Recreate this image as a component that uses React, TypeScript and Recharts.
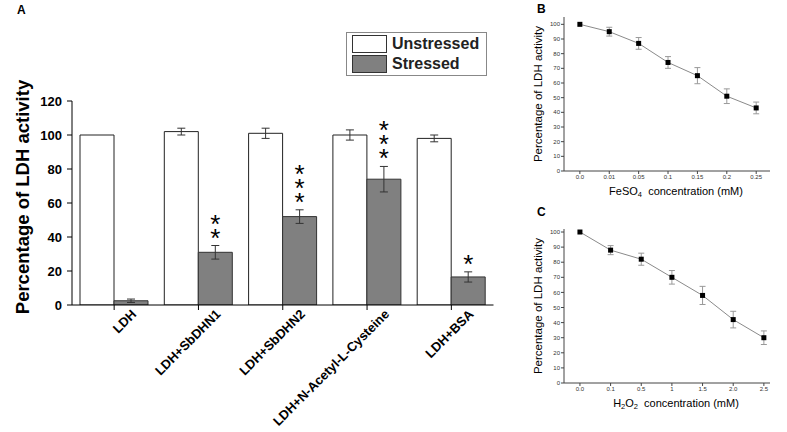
import React from 'react';
import { BarChart, Bar, XAxis, YAxis, ErrorBar, LabelList, Legend, LineChart, Line } from 'recharts';

const FONT = '"Liberation Sans", Arial, Helvetica, sans-serif';

// Panel A
const groups = ['LDH', 'LDH+SbDHN1', 'LDH+SbDHN2', 'LDH+N-Acetyl-L-Cysteine', 'LDH+BSA'];
const unstressed = [100, 102, 101, 100, 98];
const unstressedErr = [0, 2, 3, 3, 2];
const stressed = [2.5, 31, 52, 74, 16.5];
const stressedErr = [1, 4, 4, 7.5, 3];
const stars = [0, 2, 3, 3, 1];
const yTicksA = [0, 20, 40, 60, 80, 100, 120];
const yMinorA = [10, 30, 50, 70, 90, 110];
const xMinorA = [1, 2, 3, 4, 5];

// Panel B
const feLabels = ['0.0', '0.01', '0.05', '0.1', '0.15', '0.2', '0.25'];
const feValues = [100, 95, 87, 74, 65, 51, 43];
const feErr = [0, 3, 4, 4, 5.5, 5, 4];

// Panel C
const h2o2Labels = ['0.0', '0.1', '0.5', '1', '1.5', '2.0', '2.5'];
const h2o2Values = [100, 88, 82, 70, 58, 42, 30];
const h2o2Err = [0, 3, 4, 4.5, 6, 5.5, 4.5];

const lineTicks = [0, 1, 2, 3, 4, 5, 6];
const lineMinorX = [0.5, 1.5, 2.5, 3.5, 4.5, 5.5];
const lineYTicks = [0, 10, 20, 30, 40, 50, 60, 70, 80, 90, 100];
const lineYMinor = [5, 15, 25, 35, 45, 55, 65, 75, 85, 95];

const barData = groups.map((name, i) => ({
  name,
  unstressed: unstressed[i],
  unstressedErr: unstressedErr[i],
  stressed: stressed[i],
  stressedErr: stressedErr[i],
}));

const feData = feLabels.map((label, i) => ({ idx: i, label, value: feValues[i], err: feErr[i] }));
const h2o2Data = h2o2Labels.map((label, i) => ({ idx: i, label, value: h2o2Values[i], err: h2o2Err[i] }));

function GroupTick(props: any) {
  const { x, y, payload } = props;
  return (
    <g transform={`translate(${x + 23},${y + 3})`}>
      <text
        textAnchor="end"
        transform="rotate(-45)"
        fontSize={13}
        fontWeight="bold"
        fontFamily={FONT}
        fill="#000"
      >
        {payload.value}
      </text>
    </g>
  );
}

// stacked significance asterisks above the stressed bars, one text per bar
function StarLabel(props: any) {
  const { x, y, width, height, index, value } = props;
  const n = stars[index] || 0;
  if (!n) return null;
  const errPx = value ? (height * stressedErr[index]) / value : 0;
  const lowest = y - errPx - 12;
  const topCenter = lowest - (n - 1) * 14;
  const cx = x + width / 2;
  return (
    <text x={cx} y={topCenter + 13} textAnchor="middle" fontSize={26} fontFamily={FONT} fill="#000">
      {Array.from({ length: n }, (_, j) => (
        <tspan key={j} x={cx} dy={j === 0 ? 0 : 14}>
          *
        </tspan>
      ))}
    </text>
  );
}

function BarLegend() {
  const items = [
    { name: 'Unstressed', fill: '#fff' },
    { name: 'Stressed', fill: '#808080' },
  ];
  return (
    <div
      style={{
        border: '1px solid #888',
        padding: '1px 7px 1px 5px',
        background: '#fff',
        fontFamily: FONT,
      }}
    >
      {items.map((it) => (
        <div key={it.name} style={{ display: 'flex', alignItems: 'center', height: 20 }}>
          <div
            style={{
              width: 33,
              height: 16,
              background: it.fill,
              border: '1px solid #333',
              marginRight: 5,
            }}
          />
          <span style={{ fontSize: 16, fontWeight: 'bold', color: '#222' }}>{it.name}</span>
        </div>
      ))}
    </div>
  );
}

const yTitleA = (props: any) => {
  const vb = props.viewBox;
  const cx = vb.x + 22;
  const cy = vb.y + vb.height / 2 - 6;
  return (
    <text
      x={cx}
      y={cy}
      transform={`rotate(-90, ${cx}, ${cy})`}
      textAnchor="middle"
      dominantBaseline="central"
      fontSize={18.5}
      fontWeight="bold"
      fontFamily={FONT}
      fill="#000"
    >
      Percentage of LDH activity
    </text>
  );
};

const yTitleSmall = (props: any) => {
  const vb = props.viewBox;
  const cx = vb.x + 18;
  const cy = vb.y + vb.height / 2;
  return (
    <text
      x={cx}
      y={cy}
      transform={`rotate(-90, ${cx}, ${cy})`}
      textAnchor="middle"
      dominantBaseline="central"
      fontSize={11.5}
      fontFamily={FONT}
      fill="#000"
    >
      Percentage of LDH activity
    </text>
  );
};

const makeXTitle = (main: string, sub: string, rest: string, sub2?: string) => (props: any) => {
  const vb = props.viewBox;
  const cx = vb.x + vb.width / 2 + 9;
  const cy = vb.y + 24;
  return (
    <text x={cx} y={cy} textAnchor="middle" fontSize={11} fontFamily={FONT} fill="#000">
      <tspan>{main}</tspan>
      <tspan fontSize={7.5} dy={2}>
        {sub}
      </tspan>
      {sub2 ? (
        <>
          <tspan dy={-2}>O</tspan>
          <tspan fontSize={7.5} dy={2}>
            {sub2}
          </tspan>
        </>
      ) : null}
      <tspan dy={-2}>{rest}</tspan>
    </text>
  );
};

const feTitle = makeXTitle('FeSO', '4', '\u00a0\u00a0concentration (mM)');
const h2o2Title = makeXTitle('H', '2', '\u00a0\u00a0concentration (mM)', '2');

const SquareDot = (props: any) => {
  const { cx, cy, index } = props;
  if (cx == null || cy == null) return <g key={index} />;
  return <rect key={index} x={cx - 2.5} y={cy - 2.5} width={5} height={5} fill="#000" />;
};

function LinePanel({
  data,
  labels,
  domainX,
  domainY,
  top,
  title,
}: {
  data: any[];
  labels: string[];
  domainX: [number, number];
  domainY: [number, number];
  top: number;
  title: (p: any) => React.ReactNode;
}) {
  const tickStyle = { fontSize: 6, fill: '#333', fontFamily: FONT };
  return (
    <LineChart width={267} height={216} data={data} margin={{ top, right: 17, left: 0, bottom: 0 }}>
      <XAxis
        dataKey="idx"
        type="number"
        domain={domainX}
        ticks={lineTicks}
        allowDataOverflow
        tickFormatter={(i: number) => labels[i]}
        tick={tickStyle}
        tickSize={3}
        tickMargin={1}
        height={216 - top - 154}
        axisLine={{ stroke: '#444' }}
        tickLine={{ stroke: '#444' }}
        label={title}
      />
      <XAxis
        xAxisId="minor"
        dataKey="idx"
        type="number"
        domain={domainX}
        ticks={lineMinorX}
        allowDataOverflow
        tick={false}
        tickSize={2}
        height={0}
        axisLine={false}
        tickLine={{ stroke: '#444' }}
      />
      <YAxis
        type="number"
        domain={domainY}
        ticks={lineYTicks}
        allowDataOverflow
        tick={tickStyle}
        tickSize={3}
        tickMargin={1}
        width={44}
        axisLine={{ stroke: '#444' }}
        tickLine={{ stroke: '#444' }}
        label={yTitleSmall}
      />
      <YAxis
        yAxisId="minor"
        type="number"
        domain={domainY}
        ticks={lineYMinor}
        allowDataOverflow
        tick={false}
        tickSize={2}
        width={0}
        axisLine={false}
        tickLine={{ stroke: '#444' }}
      />
      <Line
        type="linear"
        dataKey="value"
        stroke="#8a8a8a"
        strokeWidth={1}
        dot={SquareDot}
        activeDot={false}
        isAnimationActive={false}
      >
        <ErrorBar dataKey="err" width={3} stroke="#999" strokeWidth={1} direction="y" />
      </Line>
    </LineChart>
  );
}

export default function App() {
  return (
    <div
      style={{
        position: 'absolute',
        left: 0,
        top: 0,
        width: 787,
        height: 432,
        background: '#fff',
        fontFamily: FONT,
        overflow: 'hidden',
      }}
    >
      <div style={{ position: 'absolute', left: 0, top: 0 }}>
        <BarChart
          width={500}
          height={432}
          data={barData}
          margin={{ top: 57, right: 6.5, left: 0, bottom: 0 }}
          barCategoryGap={8}
          barGap={0}
        >
          <XAxis
            xAxisId="main"
            dataKey="name"
            height={127}
            interval={0}
            tickSize={5}
            tick={<GroupTick />}
            axisLine={{ stroke: '#000' }}
            tickLine={{ stroke: '#000' }}
          />
          <XAxis
            xAxisId="minor"
            type="number"
            domain={[0, 5]}
            ticks={xMinorA}
            allowDataOverflow
            tick={false}
            tickSize={3}
            height={0}
            axisLine={false}
            tickLine={{ stroke: '#000' }}
          />
          <YAxis
            yAxisId="main"
            type="number"
            domain={[0, 120]}
            ticks={yTicksA}
            allowDataOverflow
            width={72}
            tickSize={5}
            tickMargin={5}
            tick={{ fontSize: 13, fontWeight: 'bold', fill: '#000', fontFamily: FONT }}
            axisLine={{ stroke: '#000' }}
            tickLine={{ stroke: '#000' }}
            label={yTitleA}
          />
          <YAxis
            yAxisId="minor"
            type="number"
            domain={[0, 120]}
            ticks={yMinorA}
            allowDataOverflow
            width={0}
            tick={false}
            tickSize={3}
            axisLine={false}
            tickLine={{ stroke: '#000' }}
          />
          <Legend
            layout="vertical"
            align="center"
            verticalAlign="top"
            content={<BarLegend />}
            wrapperStyle={{ left: 346, top: 32, width: 'auto' }}
          />
          <Bar
            xAxisId="main"
            yAxisId="main"
            dataKey="unstressed"
            name="Unstressed"
            fill="#fff"
            stroke="#222"
            strokeWidth={1}
            isAnimationActive={false}
          >
            <ErrorBar dataKey="unstressedErr" width={4} stroke="#333" strokeWidth={1} direction="y" />
          </Bar>
          <Bar
            xAxisId="main"
            yAxisId="main"
            dataKey="stressed"
            name="Stressed"
            fill="#808080"
            stroke="#333"
            strokeWidth={1}
            isAnimationActive={false}
          >
            <ErrorBar dataKey="stressedErr" width={4} stroke="#333" strokeWidth={1} direction="y" />
            <LabelList dataKey="stressed" content={StarLabel} />
          </Bar>
        </BarChart>
      </div>

      <div style={{ position: 'absolute', left: 520, top: 0 }}>
        <LinePanel data={feData} labels={feLabels} domainX={[-0.54, 6.47]} domainY={[0, 105]} top={17} title={feTitle} />
      </div>

      <div style={{ position: 'absolute', left: 520, top: 216 }}>
        <LinePanel data={h2o2Data} labels={h2o2Labels} domainX={[-0.52, 6.2]} domainY={[0, 102]} top={13} title={h2o2Title} />
      </div>

      <svg width={787} height={432} style={{ position: 'absolute', left: 0, top: 0, pointerEvents: 'none' }}>
        <text x={17} y={13.5} fontSize={12} fontWeight="bold" fontFamily={FONT} fill="#000">
          A
        </text>
        <text x={537} y={13} fontSize={12} fontWeight="bold" fontFamily={FONT} fill="#000">
          B
        </text>
        <text x={537} y={216} fontSize={12} fontWeight="bold" fontFamily={FONT} fill="#000">
          C
        </text>
      </svg>
    </div>
  );
}
